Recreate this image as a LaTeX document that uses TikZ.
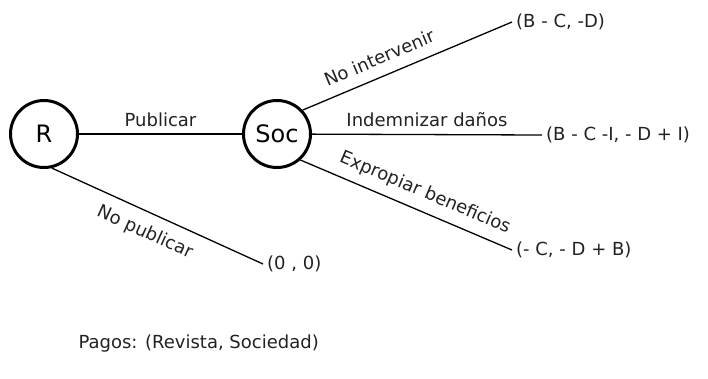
\documentclass[tikz,border=0pt]{standalone}
\usepackage{fontspec}
\setmainfont{DejaVu Sans}
\definecolor{txtgray}{HTML}{222222}

\tikzset{
  player/.style={draw, circle, line width=3pt, minimum size=67pt, inner sep=0pt,
                 font=\fontsize{24}{28}\selectfont},
  payoff/.style={anchor=west, inner sep=4pt, text=txtgray},
  move/.style={line width=1.3pt},
  movelabel/.style={text=txtgray, inner sep=4pt}
}

\begin{document}
\begin{tikzpicture}[x=1pt, y=-1pt, font=\fontsize{18}{21}\selectfont]
    \useasboundingbox (0,0) rectangle (708,378);

    % Decision nodes
    \node[player] (R) at (44,134) {R};
    \node[player] (Soc) at (277,134) {Soc};

    % Payoffs
    \node[payoff] (p0) at (263,264) {(0 , 0)};
    \node[payoff] (p1) at (512,22) {(B - C, -D)};
    \node[payoff] (p2) at (542,135) {(B - C -I, - D + I)};
    \node[payoff] (p3) at (512,250) {(- C, - D + B)};

    % Moves of R
    \draw[move] (R) -- node[movelabel, above=3pt] {Publicar} (Soc);
    \draw[move] (R.-77) -- node[movelabel, sloped, below=7pt, pos=0.48] {No publicar} (p0.west);

    % Moves of Soc
    \draw[move] (Soc.43) -- node[movelabel, sloped, above=7pt, pos=0.40] {No intervenir} (p1.west);
    \draw[move] (Soc) -- node[movelabel, above=3pt] {Indemnizar daños} (p2.west);
    \draw[move] (Soc.-48) -- node[movelabel, sloped, above=5pt, pos=0.555] {Expropiar beneficios} (p3.west);

    % Legend
    \node[anchor=west, text=txtgray] (pagos) at (75,344) {Pagos: (Revista, Sociedad)};
  \end{tikzpicture}
\end{document}
